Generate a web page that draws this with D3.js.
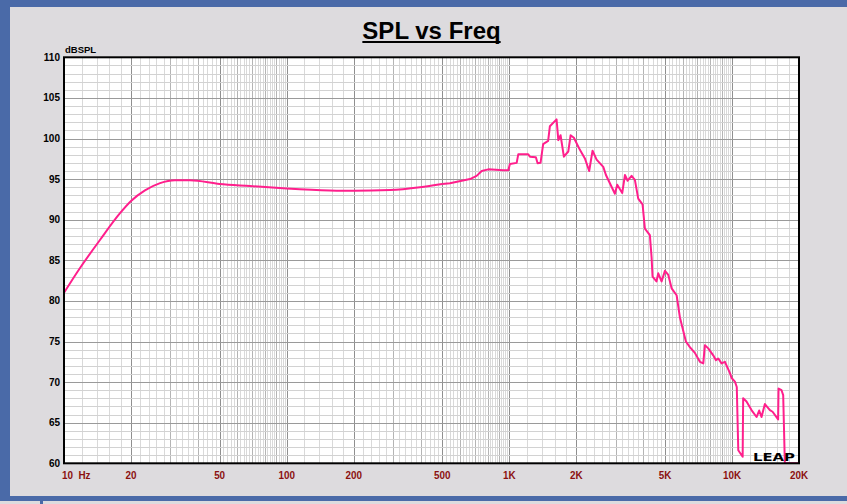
<!DOCTYPE html>
<html><head><meta charset="utf-8">
<script src="https://cdn.jsdelivr.net/npm/d3@7"></script>
<style>html,body{margin:0;padding:0;background:#dddbde;}svg{display:block;}</style>
</head><body>
<script>
// ---- data ----
const freqHz = [10,11.8,14.5,17.85,20,23.1,27,31.5,36.8,50,68.4,100,156,200,291,397,500,
  541,666,713,752,804,939,990,1006,1079,1097,1216,1238,1316,1340,1381,1419,1494,1521,1630,1660,1699,
  1758,1840,1885,1950,2075,2185,2284,2365,2466,2642,2716,2980,3053,3215,3306,3399,3541,3664,3793,3966,
  4064,4278,4354,4398,4581,4666,4829,5000,5176,5358,5640,5834,6209,6471,6813,
  7178,7431,7558,7823,8239,8472,8676,8981,9296,9795,9960,10310,10509,10674,11169,11226,11622,12237,
  12893,13247,13574,14055,14805,15220,16114,16187,16692,16982,17276,20000];
const splDb = [81.0,84.05,87.5,90.8,92.3,93.6,94.5,94.85,94.85,94.4,94.15,93.85,93.6,93.55,93.65,94.0,94.4,
  94.5,95.0,95.4,96.0,96.2,96.1,96.1,96.85,97.0,98.05,98.05,97.76,97.7,96.95,97.0,99.3,99.7,101.5,102.35,99.8,100.4,
  97.76,98.4,100.4,100.1,98.6,97.55,96.0,98.5,97.4,96.5,95.5,93.2,94.3,93.3,95.5,94.8,95.4,94.9,92.6,91.9,
  88.9,88.1,85.4,83.0,82.4,83.4,82.4,83.7,83.2,81.55,80.7,78.0,75.0,74.3,73.6,
  72.5,72.3,74.55,74.15,73.3,72.7,72.9,72.3,72.5,71.1,70.5,70.05,69.4,61.6,60.8,68.0,67.6,66.55,
  65.7,66.5,65.7,67.3,66.55,66.35,65.4,69.2,69.0,68.4,60.0,60.0];
const xTickValues = [10,20,50,100,200,500,1000,2000,5000,10000,20000];
const xTickLabels = ["10\u00a0\u00a0Hz","20","50","100","200","500","1K","2K","5K","10K","20K"];
const yTickValues = [60,65,70,75,80,85,90,95,100,105,110];
const titleText = "SPL vs Freq";
const yUnit = "dBSPL";
const logoText = "LEAP";

// ---- layout ----
const W = 847, H = 504;
const L = 64, R = 799, T = 57.3, B = 463.3;
const svg = d3.select("body").append("svg").attr("width", W).attr("height", H);

// frame
svg.append("rect").attr("x",0).attr("y",0).attr("width",W).attr("height",H).attr("fill","#dddbde");
svg.append("rect").attr("x",0).attr("y",0).attr("width",W).attr("height",7).attr("fill","#4a6aa8");
svg.append("rect").attr("x",0).attr("y",0).attr("width",10).attr("height",501).attr("fill","#4a6aa8");
svg.append("rect").attr("x",0).attr("y",496).attr("width",W).attr("height",5).attr("fill","#4a6aa8");
svg.append("rect").attr("x",40).attr("y",501).attr("width",3).attr("height",3).attr("fill","#4a6aa8");

const x = d3.scaleLog().domain([10,20000]).range([L,R]);
const y = d3.scaleLinear().domain([60,110]).range([B,T]);

// plot background
svg.append("rect").attr("x",L).attr("y",T).attr("width",R-L).attr("height",B-T).attr("fill","#fff");

// vertical grid
const vg = [];
[10,100,1000,10000].forEach(b => {
  for (let m = 10; m <= 100; m += 2) {
    const f = m*b/10;
    if (f > 20000) continue;
    let cls = "minor";
    if (m % 10 === 0) cls = (m===10||m===20||m===50||m===100) ? "major" : "mid";
    vg.push({f, cls});
  }
});
const gcol = {minor:"#d9d9d9", mid:"#b4b4b4", major:"#8f8f8f"};
svg.append("g").selectAll("line").data(vg).join("line")
  .attr("x1", d => Math.round(x(d.f))+0.5).attr("x2", d => Math.round(x(d.f))+0.5)
  .attr("y1", T).attr("y2", B)
  .attr("stroke", d => gcol[d.cls]).attr("stroke-width", 1);

// horizontal grid
const hg = d3.range(61,110,1);
svg.append("g").selectAll("line").data(hg).join("line")
  .attr("x1", L).attr("x2", R)
  .attr("y1", d => Math.round(y(d))+0.5).attr("y2", d => Math.round(y(d))+0.5)
  .attr("stroke", d => d % 5 === 0 ? "#9a9a9a" : "#d2d2d2").attr("stroke-width", 1);

// curve
svg.append("clipPath").attr("id","clip").append("rect")
  .attr("x",L).attr("y",T).attr("width",R-L).attr("height",B-T);
const pts = freqHz.map((f,i) => ({f, v: splDb[i]}));
const lf = pts.filter(p => p.f <= 500), hf = pts.filter(p => p.f >= 500);
const lineLF = d3.line().x(d => x(d.f)).y(d => y(d.v)).curve(d3.curveMonotoneX);
const lineHF = d3.line().x(d => x(d.f)).y(d => y(d.v));
const cg = svg.append("g").attr("clip-path","url(#clip)");
cg.append("path").attr("d", lineLF(lf)).attr("fill","none").attr("stroke","#ff1f8c").attr("stroke-width",2);
cg.append("path").attr("d", lineHF(hf)).attr("fill","none").attr("stroke","#ff1f8c").attr("stroke-width",2).attr("stroke-linejoin","round");

// logo
svg.append("text").attr("x",753).attr("y",461).text(logoText)
  .attr("font-family","DejaVu Sans, Verdana, sans-serif").attr("font-weight","bold")
  .attr("font-size",10).attr("textLength",42).attr("lengthAdjust","spacingAndGlyphs").attr("fill","#000");

// plot border
svg.append("rect").attr("x",L).attr("y",T).attr("width",R-L).attr("height",B-T)
  .attr("fill","none").attr("stroke","#000").attr("stroke-width",2);

// y axis labels
svg.append("g").selectAll("text").data(yTickValues).join("text")
  .attr("x", 60).attr("y", d => y(d)+3.5).attr("text-anchor","end")
  .attr("font-family","Liberation Sans, Arial, sans-serif").attr("font-weight","bold")
  .attr("font-size",10).attr("fill","#000").text(d => d);

// y unit
svg.append("text").attr("x",65).attr("y",52.5).text(yUnit)
  .attr("font-family","Liberation Sans, Arial, sans-serif").attr("font-weight","bold").attr("font-size",9.5).attr("fill","#000");

// x axis labels
svg.append("g").selectAll("text").data(xTickValues).join("text")
  .attr("transform", (d,i) => `translate(${i===0 ? x(d)-2 : x(d)},478.5) scale(0.86,1)`)
  .attr("text-anchor", (d,i) => i===0 ? "start" : "middle")
  .attr("font-family","Liberation Sans, Arial, sans-serif").attr("font-weight","bold")
  .attr("font-size",11.5).attr("fill","#8b1010").text((d,i) => xTickLabels[i]);

// title
const title = svg.append("text").attr("x",(L+R)/2).attr("y",39).attr("text-anchor","middle")
  .attr("font-family","Liberation Sans, Arial, sans-serif").attr("font-weight","bold")
  .attr("font-size",24).attr("fill","#000").text(titleText);
const tb = title.node().getBBox();
svg.append("rect").attr("x",tb.x).attr("y",41).attr("width",tb.width).attr("height",2).attr("fill","#000");
</script>
</body></html>
